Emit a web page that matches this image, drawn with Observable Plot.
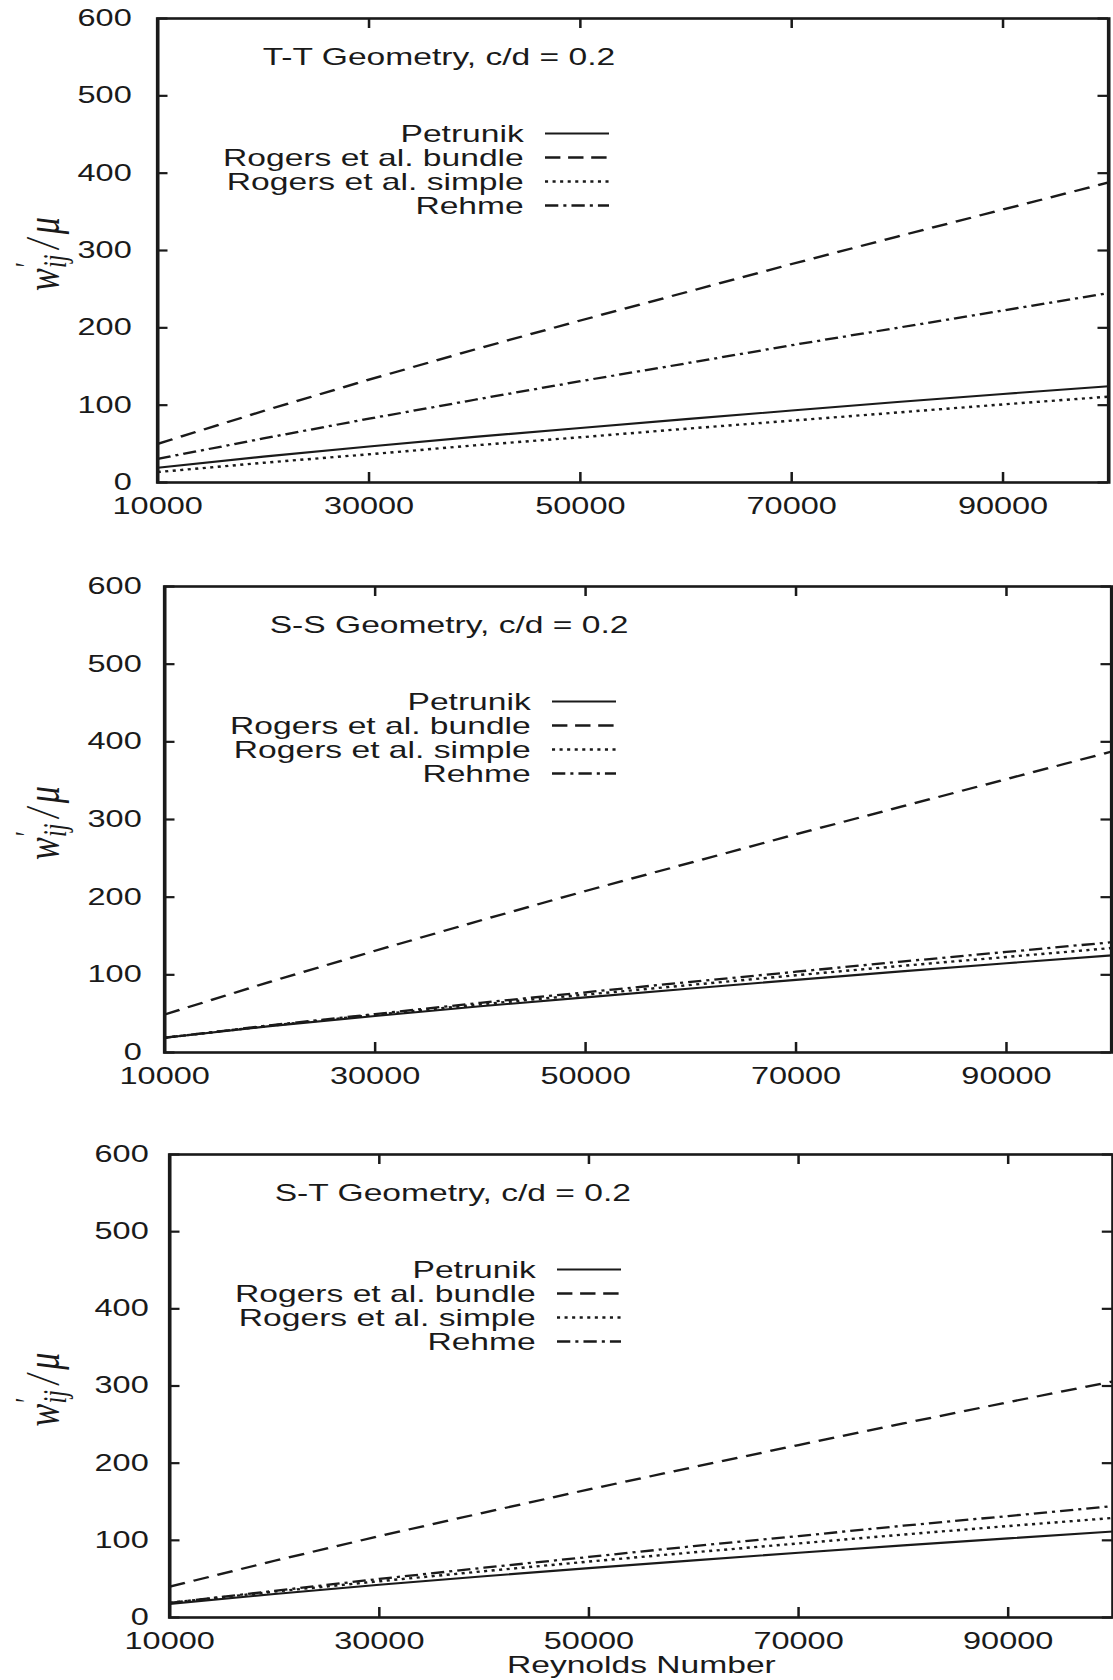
<!DOCTYPE html>
<html>
<head>
<meta charset="utf-8">
<script src="https://cdn.jsdelivr.net/npm/d3@7"></script>
<script src="https://cdn.jsdelivr.net/npm/@observablehq/plot@0.6"></script>
<style>
  html, body { margin: 0; padding: 0; background: #fff; }
  #chart { position: relative; width: 1113px; height: 1680px; overflow: hidden; background: #fff; }
  .panel { position: absolute; left: 0; }
</style>
</head>
<body>
<div id="chart"></div>
<script>
// ---------------- data ----------------
const reynolds = [10000, 20000, 30000, 40000, 50000, 60000, 70000, 80000, 90000, 100000];
const seriesNames = ["Petrunik", "Rogers et al. bundle", "Rogers et al. simple", "Rehme"];
const panelTitles = ["T-T Geometry, c/d = 0.2", "S-S Geometry, c/d = 0.2", "S-T Geometry, c/d = 0.2"];
const xTicks = [10000, 30000, 50000, 70000, 90000];
const yTicks = [0, 100, 200, 300, 400, 500, 600];
const xAxisTitle = "Reynolds Number";

// T-T geometry
const ttPetrunik = [19, 33.5, 46.5, 59, 70.5, 82, 93, 104, 114.5, 124.5];
const ttBundle   = [50, 92.5, 133, 172, 209.5, 246, 282.5, 318, 353, 388];
const ttSimple   = [13.5, 25.5, 36.5, 48, 58.5, 69.5, 80, 90.5, 101, 111];
const ttRehme    = [30.5, 57, 82.5, 107, 131, 154, 177.5, 200, 222.5, 245];

// S-S geometry
const ssPetrunik = [19, 34, 47, 59.5, 71, 82.5, 93.5, 104.5, 115, 125];
const ssBundle   = [49, 91, 131, 170, 208, 244.5, 281, 316.5, 352, 387.5];
const ssSimple   = [19, 34.5, 48.5, 62, 74.5, 87, 99.5, 111.5, 123, 134.5];
const ssRehme    = [19, 35, 49.5, 64, 77.5, 91, 104, 117, 129.5, 142];

// S-T geometry
const stPetrunik = [17.7, 30.5, 42.5, 53.5, 64, 74, 84, 93.5, 102.5, 111.5];
const stBundle   = [40, 73.5, 105.5, 136, 166, 195, 223.5, 251.5, 279, 306];
const stSimple   = [19, 33.5, 47, 60, 72.5, 84.5, 96, 107.5, 118.5, 129];
const stRehme    = [19, 34.5, 50, 64.5, 78.5, 92.5, 105.5, 119, 131.5, 144.5];

// ---------------- styles / layout ----------------
const INK = "#1a1a1a";
const FONT = "'Liberation Sans', Arial, Helvetica, sans-serif";
const S = 1.4;                 // horizontal stretch of the original figure
const W = 1113 / S;            // internal drawing width
const lineDash = [undefined, "11.5,6.5", "2.2,3.2", "9.5,3.6,2.2,3.6"];
const legendDash = [undefined, "11,5.5", "2.2,3.2", "9.5,3.6,2.2,3.6"];
const lineWidth = [2.1, 2.3, 2.4, 2.3];

const panels = [
  {title: panelTitles[0], series: [ttPetrunik, ttBundle, ttSimple, ttRehme],
   top: 0, height: 560, marginTop: 18, marginBottom: 78, left: 157, right: 1108, labelGap: 26, showX: false},
  {title: panelTitles[1], series: [ssPetrunik, ssBundle, ssSimple, ssRehme],
   top: 560, height: 570, marginTop: 26, marginBottom: 78, left: 164, right: 1111, labelGap: 23, showX: false},
  {title: panelTitles[2], series: [stPetrunik, stBundle, stSimple, stRehme],
   top: 1130, height: 550, marginTop: 24, marginBottom: 63, left: 169, right: 1113, labelGap: 21, showX: true}
];

const chart = document.getElementById("chart");

panels.forEach((p) => {
  const ml = p.left / S;
  const mr = Math.max(0.5, (1113 - p.right) / S);
  const fw = W - ml - mr;
  const fh = p.height - p.marginTop - p.marginBottom;

  const lineMarks = p.series.map((vals, k) =>
    Plot.line(reynolds.map((r, i) => ({re: r, v: vals[i], name: seriesNames[k]})), {
      x: "re", y: "v", stroke: INK, strokeWidth: lineWidth[k],
      strokeDasharray: lineDash[k], strokeLinecap: "butt"
    })
  );

  const legendMarks = seriesNames.map((name, i) =>
    Plot.text([name], {
      text: d => d, frameAnchor: "top-left", dx: 366 / S, dy: 123 + 24 * i,
      textAnchor: "end", lineAnchor: "bottom", fontSize: 24, fill: INK
    })
  );

  const marks = [
    // inward ticks on all four sides
    Plot.tickY(yTicks, {y: d => d, insetRight: fw - 7.5, stroke: INK, strokeWidth: 2.2}),
    Plot.tickY(yTicks, {y: d => d, insetLeft: fw - 7.5, stroke: INK, strokeWidth: 2.2}),
    Plot.tickX(xTicks, {x: d => d, insetTop: fh - 10, stroke: INK, strokeWidth: 1.8}),
    Plot.tickX(xTicks, {x: d => d, insetBottom: fh - 10, stroke: INK, strokeWidth: 1.8}),
    Plot.axisY(yTicks, {anchor: "left", tickSize: 0, tickPadding: p.labelGap / S, label: null,
                        fontSize: 23.2, fill: INK, tickFormat: d => String(d)}),
    Plot.axisX(xTicks, {anchor: "bottom", tickSize: 0, tickPadding: 15, label: null,
                        fontSize: 23.2, fill: INK, tickFormat: d => String(d)}),
    ...lineMarks,
    Plot.frame({stroke: INK, strokeWidth: 2.6}),
    Plot.text([p.title], {text: d => d, frameAnchor: "top-left", dx: 105 / S, dy: 46,
                          textAnchor: "start", lineAnchor: "bottom", fontSize: 24, fill: INK}),
    ...legendMarks
  ];
  if (p.showX) {
    marks.push(Plot.text([xAxisTitle], {text: d => d, frameAnchor: "bottom", dy: 55,
                                         textAnchor: "middle", lineAnchor: "bottom", fontSize: 24, fill: INK}));
  }

  const fig = Plot.plot({
    width: W,
    height: p.height,
    marginLeft: ml,
    marginRight: mr,
    marginTop: p.marginTop,
    marginBottom: p.marginBottom,
    x: {type: "linear", domain: [10000, 100000]},
    y: {type: "linear", domain: [0, 600]},
    style: {background: "white", fontFamily: FONT, color: INK, overflow: "visible"},
    marks
  });

  const svg = d3.select(fig);

  // legend line samples
  seriesNames.forEach((name, i) => {
    const y = p.marginTop + 123 + 24 * i - 7.5;
    svg.append("line")
      .attr("x1", ml + 388 / S).attr("x2", ml + 452 / S)
      .attr("y1", y).attr("y2", y)
      .attr("stroke", INK).attr("stroke-width", lineWidth[i])
      .attr("stroke-dasharray", legendDash[i] || null);
  });

  // y axis title  w'_ij / mu
  const lab = svg.append("text")
    .attr("transform", `translate(${42}, ${p.marginTop + fh / 2 + 4}) rotate(-90)`)
    .attr("text-anchor", "middle")
    .attr("font-family", "'Liberation Serif', 'Times New Roman', serif")
    .attr("font-style", "italic")
    .attr("font-size", 34)
    .attr("fill", INK);
  lab.append("tspan").text("w");
  lab.append("tspan").attr("font-size", 24).attr("font-style", "normal").attr("dx", 1).attr("dy", -15).text("′");
  lab.append("tspan").attr("font-size", 24).attr("dx", -6).attr("dy", 20).text("ij");
  lab.append("tspan").attr("dx", 6).attr("dy", -5).text("/");
  lab.append("tspan").attr("dx", 5).text("μ");

  // stretch horizontally like the original figure
  fig.setAttribute("width", 1113);
  fig.setAttribute("height", p.height);
  fig.setAttribute("preserveAspectRatio", "none");
  fig.style.width = "1113px";
  fig.style.height = p.height + "px";
  fig.style.maxWidth = "none";

  const wrap = document.createElement("div");
  wrap.className = "panel";
  wrap.style.top = p.top + "px";
  wrap.appendChild(fig);
  chart.appendChild(wrap);
});
</script>
</body>
</html>
